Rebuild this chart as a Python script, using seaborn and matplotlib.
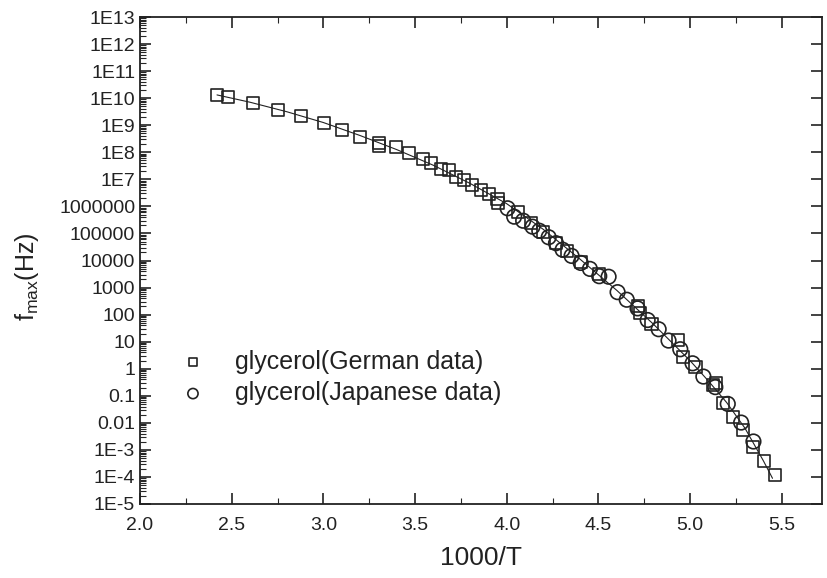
import numpy as np
import pandas as pd
import matplotlib
matplotlib.use('Agg')
import matplotlib.pyplot as plt
import seaborn as sns
from matplotlib.ticker import FixedLocator, MultipleLocator, LogLocator, NullFormatter

# --- Data (y given as log10 of f_max) ---
german_x = [2.419, 2.480, 2.617, 2.755, 2.877, 3.006, 3.101, 3.199, 3.305, 3.305,
            3.397, 3.468, 3.541, 3.586, 3.641, 3.686, 3.726, 3.768, 3.813, 3.859,
            3.901, 3.950, 3.955, 4.060, 4.132, 4.200, 4.269, 4.330, 4.405, 4.501,
            4.714, 4.727, 4.790, 4.933, 4.960, 5.030, 5.124, 5.142, 5.178, 5.233,
            5.288, 5.346, 5.402, 5.464]
german_logf = [10.12, 10.03, 9.83, 9.56, 9.34, 9.07, 8.82, 8.55, 8.33, 8.23,
               8.18, 7.96, 7.76, 7.60, 7.37, 7.36, 7.09, 6.96, 6.79, 6.62,
               6.45, 6.28, 6.14, 5.78, 5.38, 5.05, 4.64, 4.35, 3.95, 3.50,
               2.32, 2.05, 1.65, 1.06, 0.42, 0.05, -0.60, -0.54, -1.28, -1.77,
               -2.26, -2.88, -3.40, -3.93]

japanese_x = [4.005, 4.041, 4.090, 4.141, 4.178, 4.229, 4.269, 4.305, 4.354, 4.404,
              4.454, 4.505, 4.556, 4.605, 4.655, 4.714, 4.769, 4.829, 4.883, 4.947,
              5.014, 5.073, 5.138, 5.206, 5.279, 5.346]
japanese_logf = [5.93, 5.62, 5.47, 5.25, 5.10, 4.86, 4.64, 4.40, 4.17, 3.91,
                 3.69, 3.42, 3.40, 2.83, 2.55, 2.23, 1.80, 1.46, 1.04, 0.72,
                 0.20, -0.29, -0.68, -1.30, -1.99, -2.69]

# fit curve
fit_x = [2.42, 2.6, 2.8, 3.0, 3.2, 3.4, 3.6, 3.8, 4.0, 4.2, 4.4, 4.6, 4.8, 5.0,
         5.1, 5.2, 5.3, 5.4, 5.45]
fit_logf = [10.12, 9.85, 9.5, 9.1, 8.62, 8.1, 7.52, 6.85, 6.1, 5.15, 4.05, 2.9,
            1.65, 0.3, -0.45, -1.25, -2.2, -3.4, -4.05]

ytick_labels = ["1E-5", "1E-4", "1E-3", "0.01", "0.1", "1", "10", "100", "1000",
                "10000", "100000", "1000000", "1E7", "1E8", "1E9", "1E10", "1E11",
                "1E12", "1E13"]
xtick_labels = ["2.0", "2.5", "3.0", "3.5", "4.0", "4.5", "5.0", "5.5"]

german = pd.DataFrame({"x": german_x, "f": np.power(10.0, german_logf)})
japanese = pd.DataFrame({"x": japanese_x, "f": np.power(10.0, japanese_logf)})
fit = pd.DataFrame({"x": fit_x, "f": np.power(10.0, fit_logf)})

# --- Style ---
sns.set_style("ticks")
plt.rcParams["font.family"] = ["Liberation Sans", "DejaVu Sans"]
plt.rcParams["mathtext.fontset"] = "custom"
plt.rcParams["mathtext.rm"] = "Liberation Sans"
plt.rcParams["mathtext.it"] = "Liberation Sans"

fig = plt.figure(figsize=(8.28, 5.78), dpi=100)
ax = fig.add_axes([140 / 828, 1 - 504 / 578, 682 / 828, 487 / 578])
ax.set_yscale("log")

sns.lineplot(data=fit, x="x", y="f", ax=ax, color="#222222", linewidth=0.8,
             sort=False, legend=False, zorder=1)
sns.scatterplot(data=german, x="x", y="f", ax=ax, marker="s", s=75,
                facecolor="none", edgecolor="#222222", linewidth=1.2,
                label="glycerol(German data)", zorder=2)
sns.scatterplot(data=japanese, x="x", y="f", ax=ax, marker="o", s=110,
                facecolor="none", edgecolor="#222222", linewidth=1.2,
                label="glycerol(Japanese data)", zorder=3)

# --- Axes ---
ax.set_xlim(2.0, 5.72)
ax.set_ylim(1e-5, 1e13)
ax.xaxis.set_major_locator(FixedLocator([float(t) for t in xtick_labels]))
ax.set_xticklabels(xtick_labels)
ax.xaxis.set_minor_locator(MultipleLocator(0.25))
yticks = [10.0 ** e for e in range(-5, 14)]
ax.yaxis.set_major_locator(FixedLocator(yticks))
ax.set_yticklabels(ytick_labels)
ax.yaxis.set_minor_locator(LogLocator(base=10, subs=np.arange(2, 10), numticks=100))
ax.yaxis.set_minor_formatter(NullFormatter())

ax.tick_params(which="major", direction="in", length=8, width=1.2,
               top=True, right=True, labelsize=14, colors="#222222")
ax.tick_params(which="minor", direction="in", length=4, width=0.8,
               top=True, right=False)
ax.tick_params(axis="x", pad=9)
for sp in ax.spines.values():
    sp.set_linewidth(1.3)
    sp.set_color("#222222")

ax.set_xlabel("1000/T", fontsize=19, color="#222222", labelpad=9)
ax.set_ylabel("f$_{max}$(Hz)", fontsize=18, color="#222222")
ax.yaxis.set_label_coords(-0.145, 0.466)

leg = ax.legend(loc="center left", bbox_to_anchor=(0.008, 0.26), frameon=False,
                fontsize=18, markerscale=0.7, handletextpad=0.7,
                labelspacing=0.3)
for t in leg.get_texts():
    t.set_color("#222222")

fig.savefig("out.png", dpi=100)
